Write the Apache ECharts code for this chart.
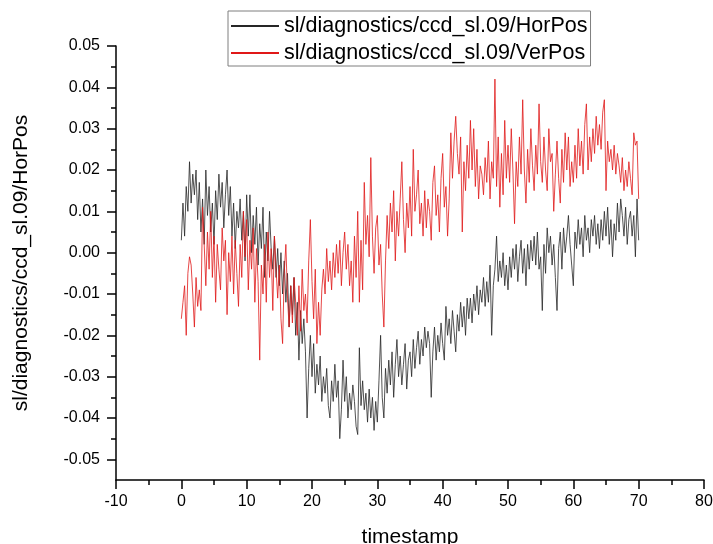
<!DOCTYPE html>
<html>
<head>
<meta charset="utf-8">
<script src="https://cdn.jsdelivr.net/npm/echarts@6/dist/echarts.min.js"></script>
<style>
html,body{margin:0;padding:0;background:#fff;}
#chart{width:713px;height:544px;}
</style>
</head>
<body>
<div id="chart"></div>
<script>
const seriesNames = ['sl/diagnostics/ccd_sl.09/HorPos', 'sl/diagnostics/ccd_sl.09/VerPos'];
const xAxisTitle = 'timestamp';
const yAxisTitle = 'sl/diagnostics/ccd_sl.09/HorPos';
const yMajorTicks = [-0.05,-0.04,-0.03,-0.02,-0.01,0,0.01,0.02,0.03,0.04,0.05];
const yMinorTicks = [-0.045,-0.035,-0.025,-0.015,-0.005,0.005,0.015,0.025,0.035,0.045];

const timestamps = [
0,0.25,0.5,0.75,1,1.25,1.5,1.75,2,2.25,2.5,2.75,3,3.25,3.5,3.75,4,4.25,4.5,4.75,
5,5.25,5.5,5.75,6,6.25,6.5,6.75,7,7.25,7.5,7.75,8,8.25,8.5,8.75,9,9.25,9.5,9.75,
10,10.25,10.5,10.75,11,11.25,11.5,11.75,12,12.25,12.5,12.75,13,13.25,13.5,13.75,14,14.25,14.5,14.75,
15,15.25,15.5,15.75,16,16.25,16.5,16.75,17,17.25,17.5,17.75,18,18.25,18.5,18.75,19,19.25,19.5,19.75,
20,20.25,20.5,20.75,21,21.25,21.5,21.75,22,22.25,22.5,22.75,23,23.25,23.5,23.75,24,24.25,24.5,24.75,
25,25.25,25.5,25.75,26,26.25,26.5,26.75,27,27.25,27.5,27.75,28,28.25,28.5,28.75,29,29.25,29.5,29.75,
30,30.25,30.5,30.75,31,31.25,31.5,31.75,32,32.25,32.5,32.75,33,33.25,33.5,33.75,34,34.25,34.5,34.75,
35,35.25,35.5,35.75,36,36.25,36.5,36.75,37,37.25,37.5,37.75,38,38.25,38.5,38.75,39,39.25,39.5,39.75,
40,40.25,40.5,40.75,41,41.25,41.5,41.75,42,42.25,42.5,42.75,43,43.25,43.5,43.75,44,44.25,44.5,44.75,
45,45.25,45.5,45.75,46,46.25,46.5,46.75,47,47.25,47.5,47.75,48,48.25,48.5,48.75,49,49.25,49.5,49.75,
50,50.25,50.5,50.75,51,51.25,51.5,51.75,52,52.25,52.5,52.75,53,53.25,53.5,53.75,54,54.25,54.5,54.75,
55,55.25,55.5,55.75,56,56.25,56.5,56.75,57,57.25,57.5,57.75,58,58.25,58.5,58.75,59,59.25,59.5,59.75,
60,60.25,60.5,60.75,61,61.25,61.5,61.75,62,62.25,62.5,62.75,63,63.25,63.5,63.75,64,64.25,64.5,64.75,
65,65.25,65.5,65.75,66,66.25,66.5,66.75,67,67.25,67.5,67.75,68,68.25,68.5,68.75,69,69.25,69.5,69.75,
70];

const horPos = [
0.003,0.012,0.004,0.016, 0.010,0.022,0.012,0.019, 0.014,0.020,0.008,0.017, 0.005,0.013,0.002,0.020, 0.009,0.016,0.005,0.012,
0.002,0.015,0.008,0.019, 0.011,0.017,0.006,0.014, 0.020,0.009,0.016,0.004, 0.012,0.001,0.010,0.006, 0.013,0.003,0.010,-0.002,
0.014,0.004,0.014,0.000, 0.009,0.002,0.011,-0.003, 0.007,0.001,0.011,-0.006, 0.005,-0.002,0.010,0.001, -0.004,0.004,-0.006,0.001,
-0.008,0.000,-0.010,-0.002, -0.012,-0.005,-0.018,-0.008, -0.015,-0.006,-0.020,-0.012, -0.026,-0.014,-0.022,-0.016, -0.024,-0.040,-0.028,-0.020,
-0.030,-0.022,-0.034,-0.027, -0.032,-0.025,-0.036,-0.030, -0.034,-0.028,-0.037,-0.040, -0.031,-0.036,-0.027,-0.035, -0.031,-0.045,-0.038,-0.026,
-0.036,-0.030,-0.040,-0.034, -0.038,-0.032,-0.036,-0.042, -0.044,-0.023,-0.037,-0.031, -0.038,-0.034,-0.041,-0.033, -0.040,-0.035,-0.043,-0.036,
-0.041,-0.031,-0.020,-0.035, -0.040,-0.028,-0.034,-0.026, -0.032,-0.024,-0.035,-0.027, -0.021,-0.030,-0.025,-0.032, -0.027,-0.022,-0.033,-0.026,
-0.024,-0.030,-0.021,-0.028, -0.023,-0.019,-0.027,-0.021, -0.025,-0.018,-0.023,-0.019, -0.022,-0.035,-0.024,-0.018, -0.026,-0.020,-0.024,-0.017,
-0.022,-0.026,-0.013,-0.020, -0.016,-0.022,-0.014,-0.019, -0.024,-0.015,-0.019,-0.012, -0.018,-0.013,-0.020,-0.011, -0.016,-0.011,-0.017,-0.010,
-0.014,-0.008,-0.015,-0.009, -0.012,-0.006,-0.013,-0.007, -0.012,-0.003,-0.020,-0.008, -0.004,0.004,-0.007,-0.002, -0.006,0.000,-0.008,-0.003,
-0.009,-0.001,-0.006,0.001, -0.004,0.002,-0.007,-0.001, 0.003,-0.005,0.001,-0.008, 0.002,-0.004,0.003,-0.002, 0.004,-0.003,0.005,-0.004,
-0.001,-0.014,0.002,-0.005, 0.006,0.000,0.004,-0.003, 0.002,-0.006,-0.014,0.001, 0.005,-0.004,0.006,0.000, 0.004,0.009,0.002,-0.003,
-0.008,0.005,0.001,0.008, 0.002,0.006,-0.001,0.009, 0.003,0.006,0.000,0.008, 0.004,0.009,0.002,0.007, 0.001,0.008,0.003,0.010,
0.004,0.011,0.002,0.008, -0.001,0.007,0.003,0.012, 0.005,0.013,0.009,0.004, 0.011,0.002,0.008,0.010, 0.004,0.009,-0.001,0.013,
0.003];

const verPos = [
-0.016,-0.012,-0.008,-0.020, -0.005,-0.001,-0.003,-0.010, -0.018,-0.006,-0.013,-0.009, -0.014,0.011,0.002,-0.008, 0.005,-0.004,0.010,-0.006,
0.004,-0.012,0.002,-0.004, -0.009,0.006,-0.002,0.003, -0.015,0.000,-0.007,0.004, -0.010,0.003,-0.005,-0.013, 0.002,-0.006,0.010,-0.001,
0.008,-0.009,0.003,-0.004, 0.006,-0.012,0.001,-0.007, -0.026,-0.003,-0.010,0.002, -0.012,0.005,-0.006,0.001, -0.014,0.004,-0.004,-0.011,
-0.003,-0.016,-0.022,-0.005, 0.002,-0.011,-0.018,-0.008, -0.017,-0.006,-0.012,-0.020, -0.008,-0.019,-0.004,-0.014, -0.010,-0.017,-0.002,0.008,
-0.007,-0.016,-0.004,-0.022, -0.012,-0.020,-0.009,-0.004, -0.010,0.001,-0.007,-0.002, -0.009,0.000,-0.006,0.002, -0.005,0.003,-0.008,0.000,
0.005,-0.004,0.002,-0.008, -0.002,-0.012,0.004,-0.006, 0.010,-0.012,0.003,-0.009, 0.017,0.002,0.009,-0.001, 0.023,0.004,-0.005,0.006,
0.009,-0.003,0.002,-0.010, -0.018,-0.002,0.009,0.001, 0.012,0.005,0.015,-0.002, 0.010,0.004,0.013,0.022, 0.008,0.000,0.012,0.006,
0.016,0.004,0.025,0.010, 0.014,0.020,0.007,0.012, 0.004,0.015,0.006,0.013, 0.010,0.003,0.017,0.021, 0.009,0.014,0.005,0.018,
0.024,0.011,0.016,0.004, 0.013,0.029,0.018,0.027, 0.033,0.024,0.019,0.028, 0.005,0.022,0.015,0.026, 0.018,0.032,0.020,0.030,
0.016,0.025,0.013,0.021, 0.019,0.014,0.023,0.017, 0.027,0.013,0.022,0.018, 0.042,0.016,0.028,0.011, 0.024,0.014,0.032,0.018,
0.026,0.017,0.030,0.020, 0.007,0.022,0.016,0.028, 0.019,0.037,0.020,0.012, 0.025,0.017,0.030,0.021, 0.015,0.026,0.019,0.036,
0.022,0.017,0.028,0.020, 0.015,0.030,0.022,0.024, 0.010,0.019,0.027,0.018, 0.012,0.025,0.017,0.029, 0.020,0.028,0.016,0.022,
0.017,0.026,0.018,0.030, 0.021,0.027,0.019,0.031, 0.036,0.020,0.028,0.022, 0.030,0.024,0.033,0.026, 0.031,0.025,0.034,0.037,
0.015,0.027,0.022,0.025, 0.020,0.026,0.019,0.024, 0.021,0.017,0.023,0.015, 0.020,0.016,0.022,0.018, 0.014,0.029,0.026,0.027,
0.013];

const FONT = '"Liberation Sans", Arial, sans-serif';
const chart = echarts.init(document.getElementById('chart'), null, {renderer: 'canvas'});

function pairs(xs, ys) { return xs.map((x, i) => [x, ys[i]]); }

const option = {
  backgroundColor: '#ffffff',
  animation: false,
  textStyle: {fontFamily: FONT},
  grid: {left: 116, right: 9, top: 46, bottom: 64, containLabel: false, outerBoundsMode: 'none'},
  legend: {
    orient: 'vertical',
    left: 228, top: 11,
    padding: [4, 3, 2, 2],
    itemWidth: 48, itemHeight: 14, itemGap: 5,
    borderColor: '#7f7f7f', borderWidth: 1,
    itemStyle: {opacity: 0},
    textStyle: {fontFamily: FONT, fontSize: 21.5, color: '#000'},
    data: seriesNames
  },
  xAxis: {
    type: 'value', min: -10, max: 80, interval: 10,
    name: xAxisTitle, nameLocation: 'middle', nameGap: 47,
    nameTextStyle: {fontFamily: FONT, fontSize: 21, color: '#000'},
    axisLine: {onZero: false, lineStyle: {color: '#000', width: 1.5}},
    axisTick: {inside: false, length: 9, lineStyle: {color: '#000', width: 1.5}},
    minorTick: {show: true, splitNumber: 2, length: 5, lineStyle: {color: '#000', width: 1.5}},
    axisLabel: {margin: 14, fontFamily: FONT, fontSize: 16, color: '#000'},
    splitLine: {show: false}
  },
  yAxis: [{
    type: 'value', min: -0.055, max: 0.05, interval: 0.005,
    name: yAxisTitle, nameLocation: 'middle', nameGap: 84,
    nameTextStyle: {fontFamily: FONT, fontSize: 21, color: '#000'},
    axisLine: {onZero: false, lineStyle: {color: '#000', width: 1.5}},
    axisTick: {inside: false, length: 9, customValues: yMajorTicks, lineStyle: {color: '#000', width: 1.5}},
    axisLabel: {margin: 16, customValues: yMajorTicks, fontFamily: FONT, fontSize: 16, color: '#000',
      formatter: v => v.toFixed(2)},
    splitLine: {show: false}
  }, {
    type: 'value', min: -0.055, max: 0.05, interval: 0.005, position: 'left',
    axisLine: {show: false, onZero: false},
    axisTick: {show: true, inside: false, length: 5, customValues: yMinorTicks, lineStyle: {color: '#000', width: 1.5}},
    axisLabel: {show: false},
    splitLine: {show: false}
  }],
  series: [{
    name: seriesNames[0], type: 'line', yAxisIndex: 0,
    data: pairs(timestamps, horPos),
    symbol: 'none', lineStyle: {color: '#262626', width: 0.8}, itemStyle: {color: '#262626'}
  }, {
    name: seriesNames[1], type: 'line', yAxisIndex: 0,
    data: pairs(timestamps, verPos),
    symbol: 'none', lineStyle: {color: '#e01818', width: 0.8}, itemStyle: {color: '#e01818'}
  }]
};
chart.setOption(option);
</script>
</body>
</html>
